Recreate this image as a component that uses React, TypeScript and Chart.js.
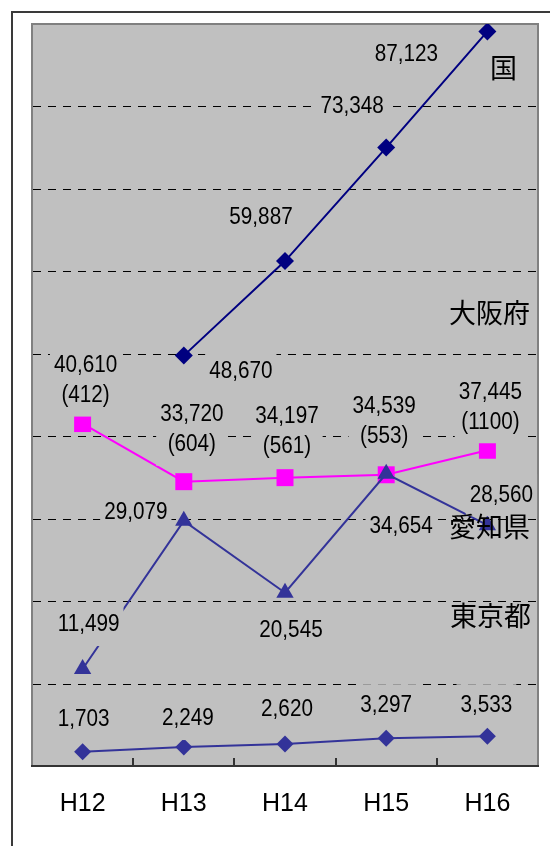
import { useEffect, useRef } from 'react';
import { Chart, registerables } from 'chart.js';

Chart.register(...registerables);

// ---- data ----
const categories = ['H12', 'H13', 'H14', 'H15', 'H16'];
const kuniValues: (number | null)[] = [null, 48670, 59887, 73348, 87123];
const osakaValues = [40610, 33720, 34197, 34539, 37445];
const osakaCounts = [412, 604, 561, 553, 1100];
const aichiValues = [11499, 29079, 20545, 34654, 28560];
const tokyoValues = [1703, 2249, 2620, 3297, 3533];
const seriesNames = ['国', '大阪府', '愛知県', '東京都'];
const yMax = 88000;
const yStep = 10000;

// ---- label placement (style: offsets from each point, px) ----
const kuniLabelOffsets: ([number, number] | null)[] = [null, [57, 16], [-24, -43], [-34, -41], [-81, 23]];
const osakaLabelOffsets: [number, number][] = [[3, -43], [8, -52], [2, -46], [-2, -53], [3, -43]];
const aichiLabelOffsets: [number, number][] = [[6, -44], [-48, -8], [6, 38], [15, 53], [14, -30]];
const tokyoLabelOffsets: [number, number][] = [[1, -32], [4, -28], [2, -34], [0, -33], [-1, -31]];
const nameOffsets: [number, number][] = [[16, 36], [2, -138], [2, 2], [3, -120]];

const fmt = (v: number) => v.toLocaleString('en-US');
const LABEL_FONT = '23px "Liberation Sans", Arial, sans-serif';
const NAME_FONT = '27px "Noto Sans CJK JP", sans-serif';

function drawBoxedText(ctx: CanvasRenderingContext2D, cx: number, cy: number, lines: string[]) {
  ctx.font = LABEL_FONT;
  const sx = 0.9;
  const lh = 30;
  const w = Math.max(...lines.map((l) => ctx.measureText(l).width)) * sx;
  const first = cy - ((lines.length - 1) * lh) / 2;
  const top = first - 21;
  const h = (lines.length - 1) * lh + 42;
  ctx.fillStyle = '#C0C0C0';
  ctx.fillRect(cx - w / 2 - 4, top, w + 8, h);
  ctx.fillStyle = '#000';
  ctx.textAlign = 'center';
  ctx.textBaseline = 'middle';
  lines.forEach((l, i) => {
    ctx.save();
    ctx.translate(cx, first + i * lh);
    ctx.scale(sx, 1);
    ctx.fillText(l, 0, 0);
    ctx.restore();
  });
}

const framePlugin = {
  id: 'frame',
  beforeDraw(chart: any) {
    const { ctx, chartArea: a } = chart;
    ctx.save();
    ctx.fillStyle = '#fff';
    ctx.fillRect(0, 0, chart.width, chart.height);
    // outer frame
    ctx.strokeStyle = '#3a3a3a';
    ctx.lineWidth = 2;
    ctx.beginPath();
    ctx.moveTo(12, chart.height + 10);
    ctx.lineTo(12, 12);
    ctx.lineTo(chart.width + 10, 12);
    ctx.stroke();
    // plot area
    ctx.fillStyle = '#C0C0C0';
    ctx.fillRect(a.left, a.top, a.right - a.left, a.bottom - a.top);
    // dashed gridlines
    const y = chart.scales.y;
    let vals: number[] = (y.ticks || []).map((t: any) => t.value);
    if (!vals.length) {
      vals = [];
      for (let v = yStep; v < yMax; v += yStep) vals.push(v);
    }
    ctx.strokeStyle = '#000';
    ctx.lineWidth = 1;
    ctx.setLineDash([8, 7]);
    for (const v of vals) {
      if (v <= 0 || v >= yMax) continue;
      const py = Math.round(y.getPixelForValue(v)) + 0.5;
      ctx.beginPath();
      ctx.moveTo(a.left + 1, py);
      ctx.lineTo(a.right, py);
      ctx.stroke();
    }
    ctx.setLineDash([]);
    // plot border
    ctx.strokeStyle = '#808080';
    ctx.lineWidth = 2;
    ctx.beginPath();
    ctx.moveTo(a.left, a.bottom);
    ctx.lineTo(a.left, a.top);
    ctx.lineTo(a.right, a.top);
    ctx.lineTo(a.right, a.bottom);
    ctx.stroke();
    // x axis line and tick marks
    ctx.strokeStyle = '#333';
    ctx.beginPath();
    ctx.moveTo(a.left - 1, a.bottom);
    ctx.lineTo(a.right + 1, a.bottom);
    ctx.stroke();
    const x = chart.scales.x;
    for (let i = 1; i < categories.length; i++) {
      const px = Math.round((x.getPixelForValue(i - 1) + x.getPixelForValue(i)) / 2);
      ctx.beginPath();
      ctx.moveTo(px, a.bottom);
      ctx.lineTo(px, a.bottom - 8);
      ctx.stroke();
    }
    ctx.restore();
  },
  afterDatasetsDraw(chart: any) {
    const { ctx } = chart;
    ctx.save();
    const specs: { ds: number; values: (number | null)[]; offsets: any[]; extra?: number[] }[] = [
      { ds: 1, values: kuniValues, offsets: kuniLabelOffsets },
      { ds: 2, values: osakaValues, offsets: osakaLabelOffsets, extra: osakaCounts },
      { ds: 0, values: aichiValues, offsets: aichiLabelOffsets },
      { ds: 3, values: tokyoValues, offsets: tokyoLabelOffsets },
    ];
    for (const s of specs) {
      const meta = chart.getDatasetMeta(s.ds);
      s.values.forEach((v, j) => {
        const off = s.offsets[j];
        const el = meta.data[j];
        if (v == null || !off || !el || el.skip) return;
        const lines = [fmt(v)];
        if (s.extra) lines.push(`(${s.extra[j]})`);
        drawBoxedText(ctx, el.x + off[0], el.y + off[1], lines);
      });
    }
    // series names near the last point of each series
    ctx.font = NAME_FONT;
    ctx.fillStyle = '#000';
    ctx.textAlign = 'center';
    ctx.textBaseline = 'middle';
    specs.forEach((s, k) => {
      const meta = chart.getDatasetMeta(s.ds);
      const el = meta.data[categories.length - 1];
      if (!el) return;
      const off = nameOffsets[k];
      ctx.fillText(seriesNames[k], el.x + off[0], el.y + off[1]);
    });
    ctx.restore();
  },
};

export default function App() {
  const ref = useRef<HTMLCanvasElement | null>(null);
  useEffect(() => {
    if (!ref.current) return;
    const chart = new Chart(ref.current, {
      type: 'line',
      data: {
        labels: categories,
        datasets: [
          {
            label: seriesNames[2],
            data: aichiValues,
            borderColor: '#333399',
            backgroundColor: '#333399',
            borderWidth: 2,
            pointStyle: 'triangle',
            pointRadius: 10,
            pointBorderWidth: 0,
            pointBackgroundColor: '#333399',
          },
          {
            label: seriesNames[0],
            data: kuniValues,
            borderColor: '#000080',
            backgroundColor: '#000080',
            borderWidth: 2,
            pointStyle: 'rectRot',
            pointRadius: 9,
            pointBorderWidth: 0,
            pointBackgroundColor: '#000080',
          },
          {
            label: seriesNames[1],
            data: osakaValues,
            borderColor: '#FF00FF',
            backgroundColor: '#FF00FF',
            borderWidth: 2,
            pointStyle: 'rect',
            pointRadius: 12,
            pointBorderWidth: 0,
            pointBackgroundColor: '#FF00FF',
          },
          {
            label: seriesNames[3],
            data: tokyoValues,
            borderColor: '#333399',
            backgroundColor: '#333399',
            borderWidth: 2,
            pointStyle: 'rectRot',
            pointRadius: 8.5,
            pointBorderWidth: 0,
            pointBackgroundColor: '#333399',
          },
        ],
      },
      options: {
        animation: false,
        responsive: false,
        devicePixelRatio: 1,
        layout: { padding: { left: 32, right: 10, top: 24, bottom: 4 } },
        plugins: { legend: { display: false }, tooltip: { enabled: false } },
        scales: {
          x: {
            offset: true,
            grid: { display: false, drawTicks: false },
            border: { display: false },
            ticks: {
              color: '#000',
              font: { family: '"Liberation Sans", Arial, sans-serif', size: 25, lineHeight: '76px' },
              padding: 0,
              maxRotation: 0,
              autoSkip: false,
            },
          },
          y: {
            display: false,
            min: 0,
            max: yMax,
            ticks: { stepSize: yStep },
          },
        },
      },
      plugins: [framePlugin],
    } as any);
    return () => chart.destroy();
  }, []);
  return (
    <div style={{ position: 'fixed', left: 0, top: 0, width: 550, height: 846 }}>
      <canvas ref={ref} width={550} height={846} style={{ display: 'block' }} />
    </div>
  );
}
